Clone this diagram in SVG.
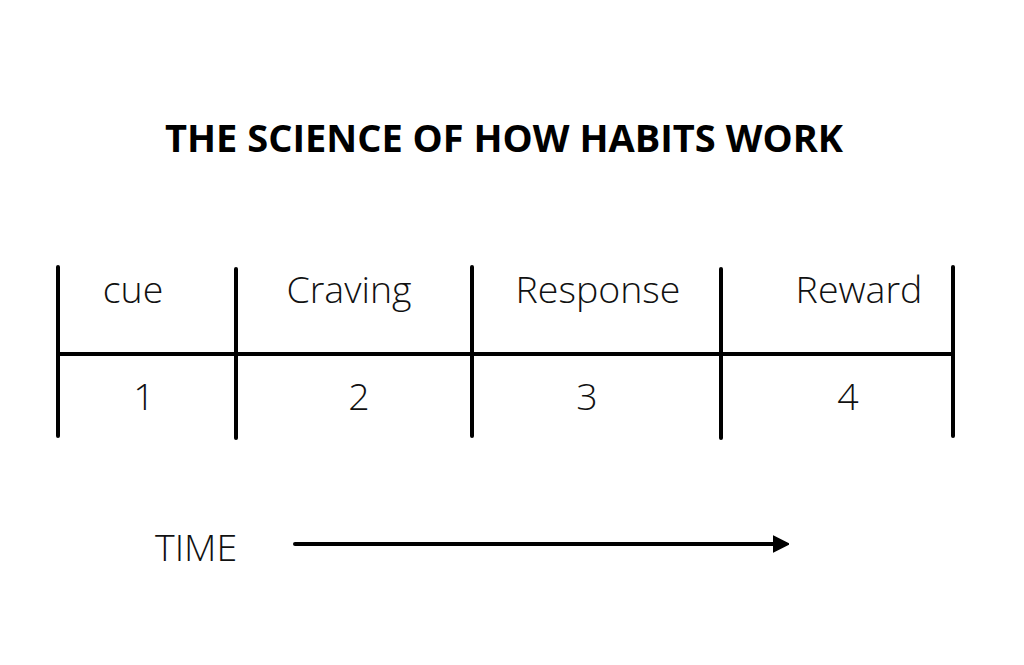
<svg xmlns="http://www.w3.org/2000/svg" width="1024" height="665" viewBox="0 0 1024 665">
<defs>
<style>
.t{font-family:"Open Sans","Liberation Sans",sans-serif;fill:#111;}
.title{font-weight:700;font-size:38px;fill:#000;}
.lbl{font-weight:300;font-size:37.5px;}
.ln{stroke:#000;stroke-width:4;stroke-linecap:round;fill:none;}
</style>
<marker id="ah" viewBox="0 0 10 10" refX="7" refY="5" markerWidth="4" markerHeight="4.5" markerUnits="strokeWidth" orient="auto">
<path d="M0,0 L10,5 L0,10 z" fill="#000" stroke="#000" stroke-width="1" stroke-linejoin="round"/>
</marker>
</defs>
<rect width="1024" height="665" fill="#fff"/>
<g id="title"><text class="t title" x="504" y="152" text-anchor="middle">THE SCIENCE OF HOW HABITS WORK</text></g>
<g id="connectors">
<line class="ln" x1="58" y1="354" x2="953" y2="354"/>
<line class="ln" x1="58" y1="267" x2="58" y2="436"/>
<line class="ln" x1="236" y1="269" x2="236" y2="438"/>
<line class="ln" x1="472" y1="267" x2="472" y2="436"/>
<line class="ln" x1="721" y1="269" x2="721" y2="438"/>
<line class="ln" x1="953" y1="267" x2="953" y2="436"/>
<line class="ln" x1="295" y1="544" x2="784" y2="544" marker-end="url(#ah)"/>
</g>
<g id="cue"><text class="t lbl" x="133" y="303" text-anchor="middle">cue</text><text class="t lbl" x="144" y="410" text-anchor="middle">1</text></g>
<g id="craving"><text class="t lbl" x="349" y="303" text-anchor="middle">Craving</text><text class="t lbl" x="359" y="410" text-anchor="middle">2</text></g>
<g id="response"><text class="t lbl" x="598" y="303" text-anchor="middle">Response</text><text class="t lbl" x="587" y="410" text-anchor="middle">3</text></g>
<g id="reward"><text class="t lbl" x="859" y="303" text-anchor="middle">Reward</text><text class="t lbl" x="848" y="410" text-anchor="middle">4</text></g>
<g id="time"><text class="t lbl" x="155" y="561">TIME</text></g>
</svg>
